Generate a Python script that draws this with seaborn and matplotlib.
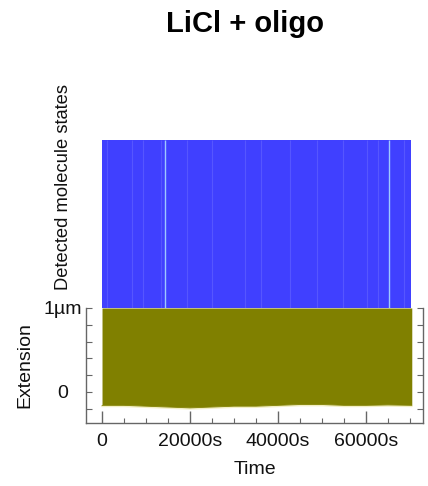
import matplotlib
matplotlib.use("Agg")
import matplotlib.pyplot as plt
import numpy as np
import pandas as pd
import seaborn as sns

# Extension trace envelope (time in s, extension in µm)
trace_time = [0, 5000, 10000, 15000, 20000, 25000, 30000, 35000,
              40000, 45000, 50000, 55000, 60000, 65000, 70400]
trace_low = [-0.16, -0.16, -0.17, -0.18, -0.19, -0.18, -0.17, -0.17,
             -0.16, -0.15, -0.15, -0.16, -0.16, -0.155, -0.16]
trace_high = [1.0] * len(trace_time)

# Detected state span and brief state switches (s)
state_span = [0, 70200]
state_level = 1.0
switch_times = [1100, 6800, 9300, 13400, 19300, 25000, 32500, 36100,
                42700, 48900, 54800, 60200, 62700, 68600]
bright_switch_times = [14300, 65200]

xticks = [0, 20000, 40000, 60000]
xtick_labels = ["0", "20000s", "40000s", "60000s"]
yticks = [0, 1]
ytick_labels = ["0", "1µm"]

sns.set_theme(style="ticks")
plt.rcParams["font.family"] = ["Liberation Sans", "DejaVu Sans"]

W, H = 428, 486
fig = plt.figure(figsize=(W / 100, H / 100), dpi=100)

left, right = 86, 423
ax_top = fig.add_axes([left / W, (H - 308) / H, (right - left) / W, (308 - 66) / H])
ax_bot = fig.add_axes([left / W, (H - 423) / H, (right - left) / W, (423 - 308) / H],
                      sharex=ax_top)

xlim = (-3640, 72950)

# --- detected states panel ---
blue = "#4040ff"
ax_top.fill_between(state_span, 0, state_level, color=blue, lw=0)
ax_top.vlines(switch_times, 0, state_level, color="#5656ff", lw=0.8)
ax_top.vlines(bright_switch_times, 0, state_level, color="#9ec8ff", lw=1.0)
ax_top.set_ylim(0, 1.44)
ax_top.set_xlim(*xlim)
for s in ax_top.spines.values():
    s.set_visible(False)
ax_top.tick_params(left=False, bottom=False, labelleft=False, labelbottom=False)
ax_top.set_ylabel("Detected molecule states", fontsize=13.2, color="#111")
ax_top.yaxis.set_label_coords(-0.042, 0.5)

# --- extension panel ---
df = pd.DataFrame({"time": trace_time, "low": trace_low, "high": trace_high})
olive = "#808000"
sns.lineplot(data=df, x="time", y=df["low"] - 0.01, ax=ax_bot,
             color="#f3efc6", lw=1.4)
ax_bot.fill_between(df["time"], df["low"], df["high"], color=olive, lw=0)
sns.lineplot(data=df, x="time", y="low", ax=ax_bot, color=olive, lw=0.6)

ax_bot.set_xlim(*xlim)
ax_bot.set_ylim(-0.37, 1.0)
ax_bot.spines["top"].set_visible(False)
for s in ("left", "right", "bottom"):
    ax_bot.spines[s].set_color("#666666")
    ax_bot.spines[s].set_linewidth(1.0)

ax_bot.set_xticks(xticks)
ax_bot.set_xticklabels(xtick_labels, fontsize=14, color="#111")
ax_bot.set_xticks(np.arange(0, 72000, 5000), minor=True)
ax_bot.set_yticks(yticks)
ax_bot.set_yticklabels(ytick_labels, fontsize=14, color="#111")
ax_bot.set_yticks(np.arange(-0.2, 1.0, 0.2), minor=True)
ax_bot.tick_params(axis="both", which="both", direction="in", colors="#666666",
                   labelcolor="#111")
ax_bot.tick_params(axis="x", which="major", length=9, width=1, pad=7)
ax_bot.tick_params(axis="x", which="minor", length=3.5, width=0.8)
ax_bot.tick_params(axis="y", which="both", right=True, length=4.5, width=0.8)
ax_bot.tick_params(axis="y", which="major", pad=17)
for lab in ax_bot.get_yticklabels():
    lab.set_horizontalalignment("center")

ax_bot.set_xlabel("Time", fontsize=14, color="#111", labelpad=8)
ax_bot.set_ylabel("Extension", fontsize=14, color="#111")
ax_bot.yaxis.set_label_coords(-0.157, 0.5)

fig.text(245 / W, 1 - 24 / H, "LiCl + oligo", ha="center", va="center",
         fontsize=21, fontweight="bold", color="#000")

fig.savefig("out.png", dpi=100)
